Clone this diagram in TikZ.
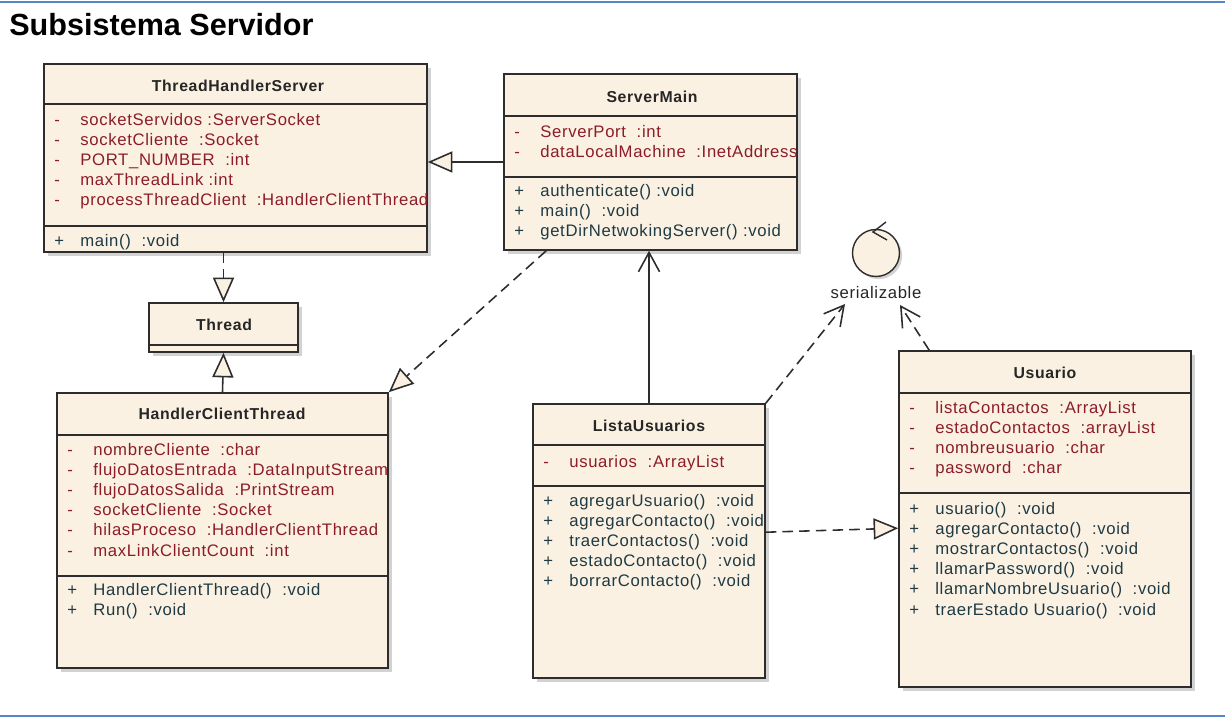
\documentclass[tikz,border=0pt]{standalone}
\usepackage{fontspec}
\setmainfont{Liberation Sans}
\newfontfamily\umlfont[LetterSpace=4]{Liberation Sans}
\usetikzlibrary{arrows.meta, calc, positioning, fit, shadows}
\definecolor{umlfill}{RGB}{251,241,227}
\definecolor{umlline}{RGB}{45,45,45}
\definecolor{attrred}{RGB}{140,28,40}
\definecolor{methteal}{RGB}{30,58,68}
\definecolor{frameblue}{RGB}{85,135,200}

\begin{document}
\begin{tikzpicture}[x=0.02cm, y=-0.02cm,
  umlclass/.style={draw=umlline, line width=0.9pt, fill=umlfill, inner sep=0pt,
    drop shadow={shadow xshift=2.2pt, shadow yshift=-2.2pt, opacity=0.5, fill=gray!70}},
  cname/.style={font=\umlfont\fontsize{9}{11}\selectfont\bfseries, text=black!85},
  attr/.style={anchor=west, inner sep=0pt, text height=8pt, text depth=1pt,
    font=\umlfont\fontsize{9.5}{11}\selectfont, text=attrred},
  meth/.style={attr, text=methteal},
  divider/.style={draw=umlline, line width=0.8pt},
  gen/.style={draw=umlline, line width=0.9pt, -{Triangle[length=14pt, width=12pt, fill=umlfill]}},
  real/.style={gen, dash pattern=on 6pt off 3.5pt},
  nav/.style={draw=umlline, line width=0.9pt, -{Straight Barb[length=11pt, width=12pt]}},
  dep/.style={nav, dash pattern=on 6pt off 3.5pt}
]
\useasboundingbox (0,0) rectangle (1225,719);

% Frame and title
\draw[frameblue, line width=1.3pt] (0,2) -- (1225,2);
\draw[frameblue, line width=1.3pt] (0,716) -- (1225,716);
\node[anchor=base west, inner sep=0pt, font=\fontsize{17.4}{20}\selectfont\bfseries] (title) at (9,36) {Subsistema Servidor};

% ThreadHandlerServer
\node[umlclass, fit={(44,64) (427,252)}] (ths) {};
\node[cname] (ths-name) at (238,86) {ThreadHandlerServer};
\draw[divider] (44,104) -- (427,104);
\draw[divider] (44,226) -- (427,226);
\foreach \txt [count=\i from 0] in {socketServidos :ServerSocket, socketCliente \ :Socket,
    PORT\_NUMBER \ :int, maxThreadLink :int, processThreadClient \ :HandlerClientThread} {
  \node[attr] (ths-v\i) at (54,{119+20.2*\i}) {-};
  \node[attr] (ths-a\i) at (80,{119+20.2*\i}) {\txt};
}
\node[meth] (ths-p0) at (54,240) {+};
\node[meth] (ths-m0) at (80,240) {main() \ :void};

% ServerMain
\node[umlclass, fit={(504,74) (797,250)}] (sm) {};
\node[cname] (sm-name) at (652,97) {ServerMain};
\draw[divider] (504,116) -- (797,116);
\draw[divider] (504,177) -- (797,177);
\foreach \txt [count=\i from 0] in {ServerPort \ :int, dataLocalMachine \ :InetAddress} {
  \node[attr] (sm-v\i) at (514,{131+20.2*\i}) {-};
  \node[attr] (sm-a\i) at (540,{131+20.2*\i}) {\txt};
}
\foreach \txt [count=\i from 0] in {authenticate() :void, main() \ :void, getDirNetwokingServer() :void} {
  \node[meth] (sm-p\i) at (514,{190+20.2*\i}) {+};
  \node[meth] (sm-m\i) at (540,{190+20.2*\i}) {\txt};
}

% Thread
\node[umlclass, fit={(149,303) (298,352)}] (thr) {};
\node[cname] (thr-name) at (224,325) {Thread};
\draw[divider] (149,345) -- (298,345);

% HandlerClientThread
\node[umlclass, fit={(57,393) (388,668)}] (hct) {};
\node[cname] (hct-name) at (222,414) {HandlerClientThread};
\draw[divider] (57,435) -- (388,435);
\draw[divider] (57,576) -- (388,576);
\foreach \txt [count=\i from 0] in {nombreCliente \ :char, flujoDatosEntrada \ :DataInputStream,
    flujoDatosSalida \ :PrintStream, socketCliente \ :Socket, hilasProceso \ :HandlerClientThread,
    maxLinkClientCount \ :int} {
  \node[attr] (hct-v\i) at (67,{449+20.2*\i}) {-};
  \node[attr] (hct-a\i) at (93,{449+20.2*\i}) {\txt};
}
\foreach \txt [count=\i from 0] in {HandlerClientThread() \ :void, Run() \ :void} {
  \node[meth] (hct-p\i) at (67,{589+20.2*\i}) {+};
  \node[meth] (hct-m\i) at (93,{589+20.2*\i}) {\txt};
}

% ListaUsuarios
\node[umlclass, fit={(533,404) (765,678)}] (lu) {};
\node[cname] (lu-name) at (649,426) {ListaUsuarios};
\draw[divider] (533,445) -- (765,445);
\draw[divider] (533,486) -- (765,486);
\node[attr] (lu-v0) at (543,461) {-};
\node[attr] (lu-a0) at (569,461) {usuarios \ :ArrayList};
\foreach \txt [count=\i from 0] in {agregarUsuario() \ :void, agregarContacto() \ :void,
    traerContactos() \ :void, estadoContacto() \ :void, borrarContacto() \ :void} {
  \node[meth] (lu-p\i) at (543,{500+20.2*\i}) {+};
  \node[meth] (lu-m\i) at (569,{500+20.2*\i}) {\txt};
}

% Usuario
\node[umlclass, fit={(899,351) (1191,687)}] (usr) {};
\node[cname] (usr-name) at (1045,373) {Usuario};
\draw[divider] (899,393) -- (1191,393);
\draw[divider] (899,493) -- (1191,493);
\foreach \txt [count=\i from 0] in {listaContactos \ :ArrayList, estadoContactos \ :arrayList,
    nombreusuario \ :char, password \ :char} {
  \node[attr] (usr-v\i) at (909,{407+20.2*\i}) {-};
  \node[attr] (usr-a\i) at (935,{407+20.2*\i}) {\txt};
}
\foreach \txt [count=\i from 0] in {usuario() \ :void, agregarContacto() \ :void,
    mostrarContactos() \ :void, llamarPassword() \ :void, llamarNombreUsuario() \ :void,
    traerEstado Usuario() \ :void} {
  \node[meth] (usr-p\i) at (909,{508+20.2*\i}) {+};
  \node[meth] (usr-m\i) at (935,{508+20.2*\i}) {\txt};
}

% Interface serializable
\node[circle, draw=umlline, line width=0.8pt, fill=umlfill, minimum size=0.94cm, inner sep=0pt,
  drop shadow={shadow xshift=1.5pt, shadow yshift=-1.5pt, opacity=0.5, fill=gray!70}] (ser) at (876,253) {};
\draw[umlline, line width=0.8pt] (886,222) -- (873,232) -- (887,240);
\node[font=\umlfont\fontsize{9.5}{11}\selectfont, text=black!85] (ser-name) at (876,293) {serializable};
\coordinate (ser-l) at (845,304);
\coordinate (ser-r) at (900,305);

% Connectors
\draw[gen] (sm.west) -- (sm.west -| ths.east);
\draw[real] (thr.north |- ths.south) -- (thr.north);
\draw[gen] (hct.north) -- (thr.south);
\draw[real] ($(sm.south west)+(43,0)$) -- (hct.north east);
\draw[nav] (lu.north) -- (lu.north |- sm.south);
\draw[dep] (lu.north east) -- (ser-l);
\draw[dep] ($(usr.north west)+(31,0)$) -- (ser-r);
\draw[real] ($(lu.north east)+(0,129)$) -- ($(usr.north west)+(0,178)$);

\end{tikzpicture}
\end{document}
